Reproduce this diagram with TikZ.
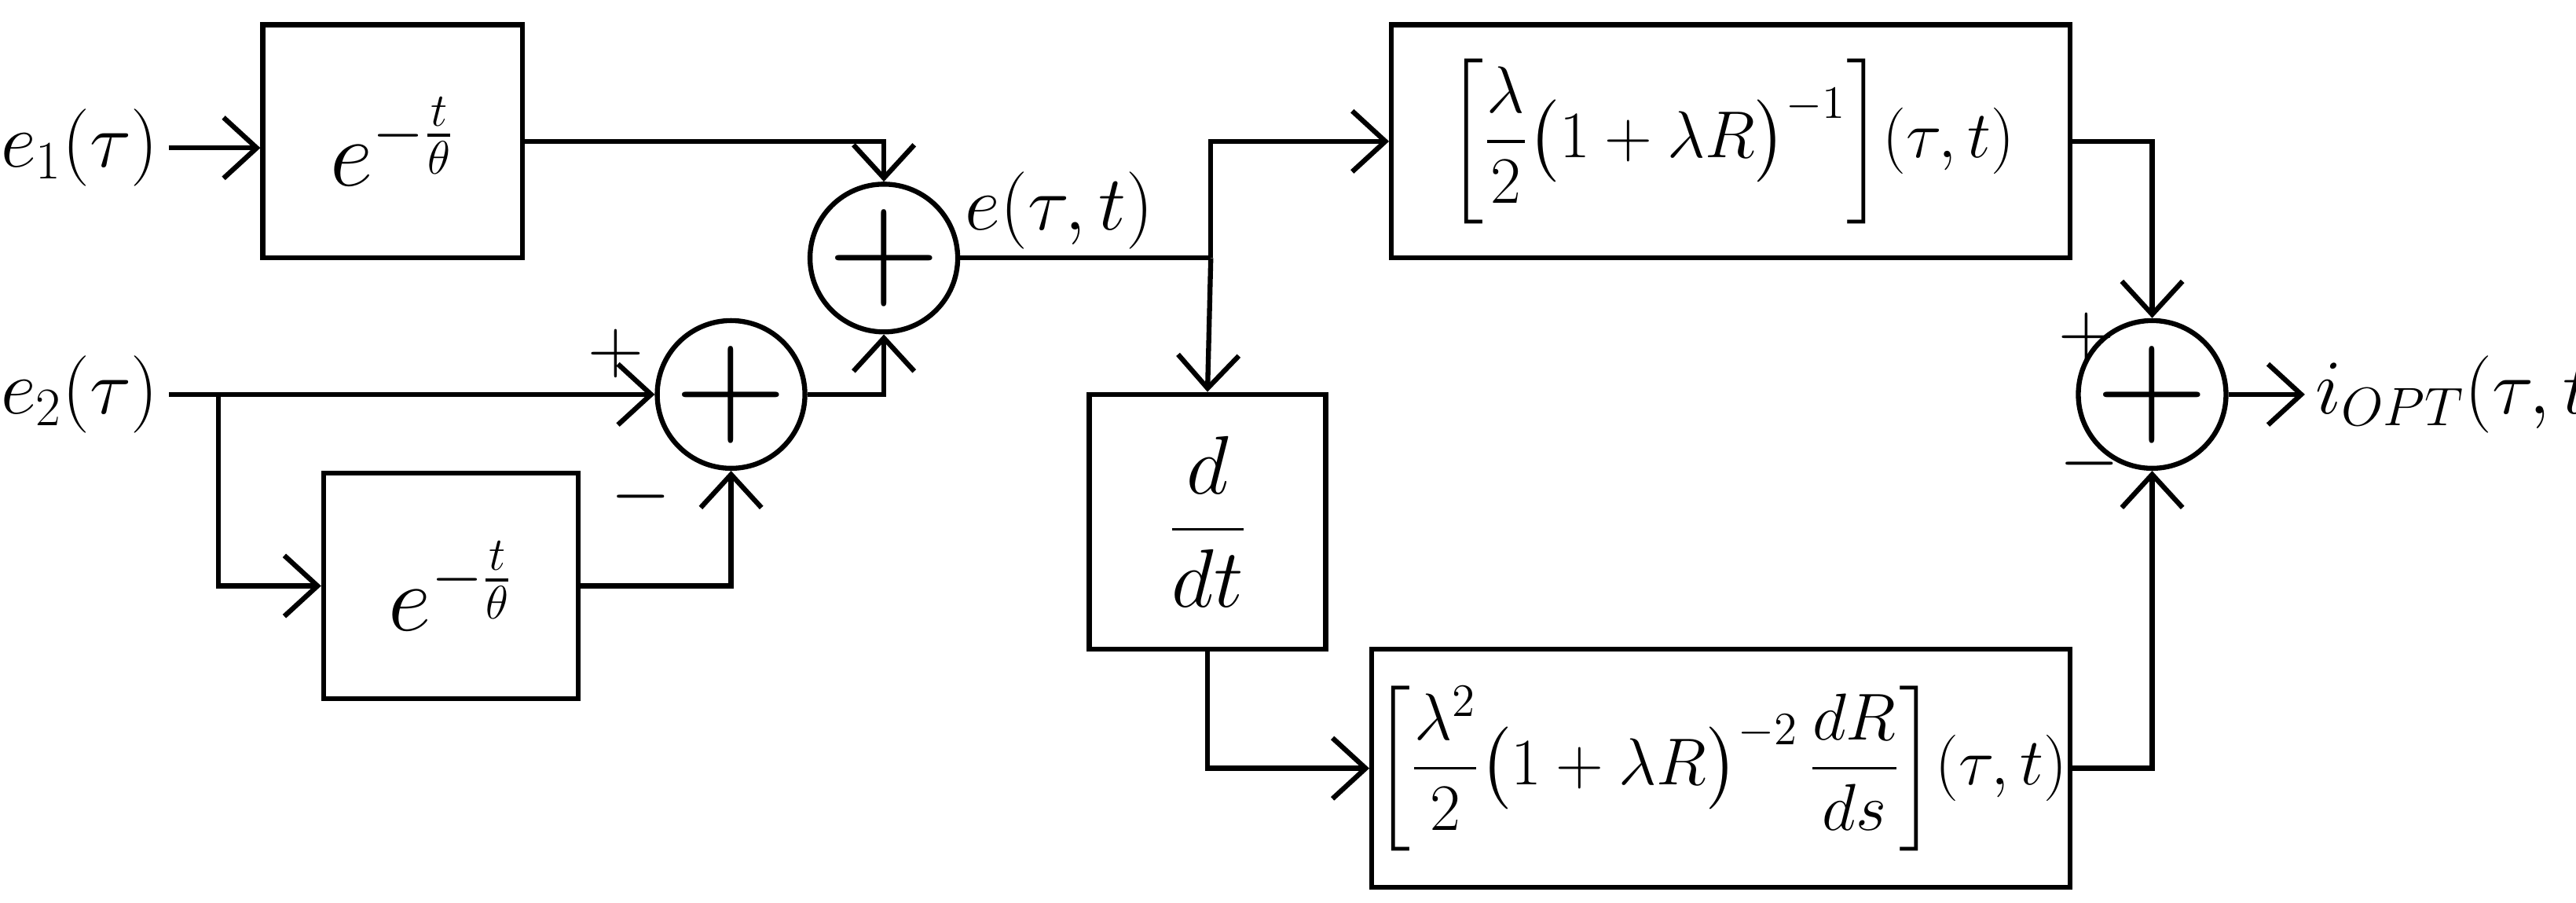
\documentclass[tikz,border=0pt]{standalone}
\usepackage{fix-cm}
\usepackage{amsmath}
\usetikzlibrary{arrows.meta}
\begin{document}
\begin{tikzpicture}[x=0.02091cm,y=-0.02091cm,
  line width=1.8pt,
  font=\fontsize{28}{34}\selectfont,
  arr/.style={-{Straight Barb[length=12pt,width=22pt,line width=1.8pt]}},
  blk/.style={draw,line width=1.8pt,inner sep=0pt,font=\fontsize{24}{30}\selectfont},
  sum/.style={draw,circle,minimum size=60*0.02091cm,inner sep=0pt,line width=1.8pt,font=\fontsize{56}{56}\selectfont},
  lbl/.style={inner sep=0pt}]
\useasboundingbox (0,0) rectangle (1568,549);
% boxes
\node[blk,minimum width=158*0.02091cm,minimum height=142*0.02091cm] (b1) at (239,86) {\fontsize{34}{40}\selectfont$e^{-\frac{t}{\theta}}$};
\node[blk,minimum width=155*0.02091cm,minimum height=137*0.02091cm] (b2) at (274.5,356.5) {\fontsize{34}{40}\selectfont$e^{-\frac{t}{\theta}}$};
\node[blk,minimum width=144*0.02091cm,minimum height=155*0.02091cm] (bd) at (735,317.5) {\fontsize{30}{36}\selectfont$\dfrac{d}{dt}$};
\node[blk,minimum width=413*0.02091cm,minimum height=142*0.02091cm] (b3) at (1053.5,86) {$\left[\dfrac{\lambda}{2}\bigl(1+\lambda R\bigr)^{-1}\right]\!(\tau,t)$};
\node[blk,minimum width=425*0.02091cm,minimum height=145*0.02091cm] (b4) at (1047.5,467.5) {$\left[\dfrac{\lambda^2}{2}\bigl(1+\lambda R\bigr)^{-2}\,\dfrac{dR}{ds}\right]\!(\tau,t)$};
% sums
\node[sum] (s1) at (538,157) {$+$};
\node[sum] (s2) at (445,240) {$+$};
\node[sum] (s3) at (1310,240) {$+$};
% labels
\node[lbl,anchor=east] (e1) at (98,90) {$e_1(\tau)$};
\node[lbl,anchor=east] (e2) at (98,240) {$e_2(\tau)$};
\node[lbl] (e) at (645,128) {$e(\tau,t)$};
\node[lbl,anchor=west] (io) at (1408,240) {$i_{OPT}(\tau,t)$};
\node[lbl] (p2) at (375,215) {$+$};
\node[lbl] (m2) at (390,302) {$-$};
\node[lbl] (p3) at (1270,205) {$+$};
\node[lbl] (m3) at (1272,282) {$-$};
\coordinate (j1) at (737,157);
\coordinate (j2) at (133,240);
% connectors
\draw[arr] ([xshift=3pt]e1.east) -- (b1.west|-e1.east);
\draw[arr] (b1.east) -| (s1.north);
\draw (s1.east) -- (j1);
\draw[arr] (j1) |- (b3.west);
\draw[arr] (j1) -- (bd.north);
\draw[arr] ([xshift=3pt]e2.east) -- (s2.west);
\draw[arr] (j2) |- (b2.west);
\draw[arr] (b2.east) -| (s2.south);
\draw[arr] (s2.east) -| (s1.south);
\draw[arr] (bd.south) |- (b4.west);
\draw[arr] (b3.east) -| (s3.north);
\draw[arr] (b4.east) -| (s3.south);
\draw[arr] (s3.east) -- ([xshift=-3pt]io.west);
\end{tikzpicture}
\end{document}
